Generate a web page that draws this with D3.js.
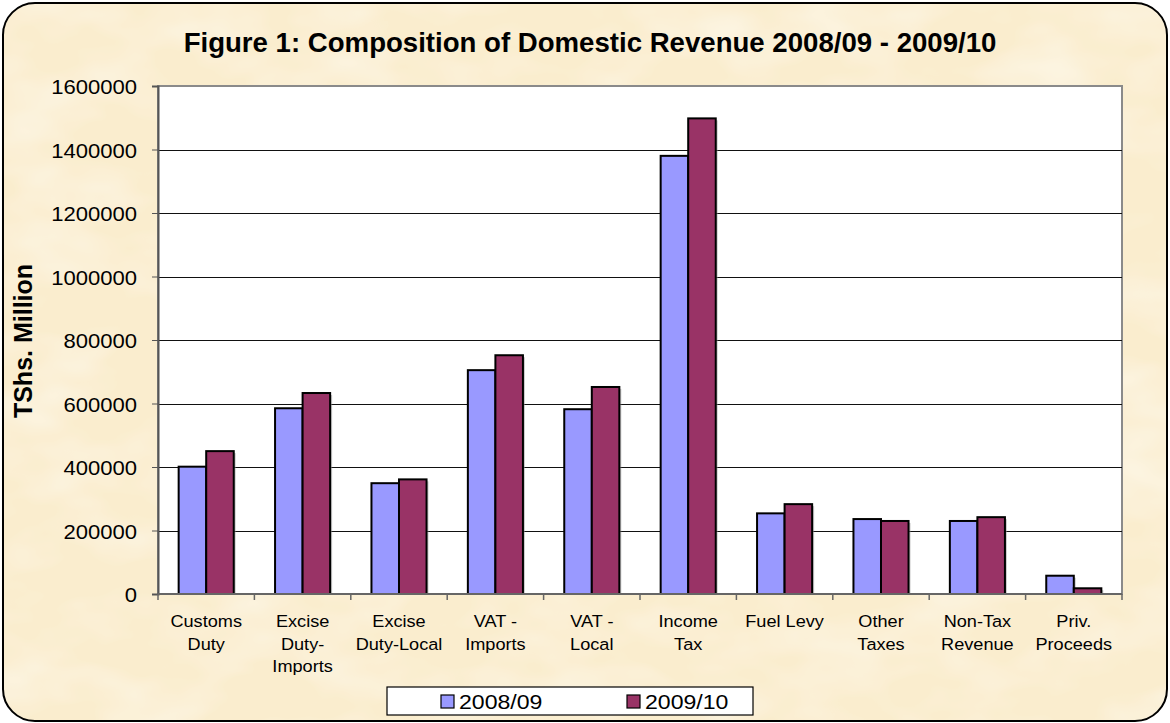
<!DOCTYPE html>
<html>
<head>
<meta charset="utf-8">
<script src="https://cdn.jsdelivr.net/npm/d3@7"></script>
<style>
  html, body { margin: 0; padding: 0; background: #fff; }
  svg { display: block; font-family: "Liberation Sans", Arial, sans-serif; }
</style>
</head>
<body>
<svg width="1170" height="723"></svg>
<script>
// categories, split where the original wraps
const categories = [
  ["Customs", "Duty"], ["Excise", "Duty-", "Imports"], ["Excise", "Duty-Local"],
  ["VAT -", "Imports"], ["VAT -", "Local"], ["Income", "Tax"], ["Fuel Levy"],
  ["Other", "Taxes"], ["Non-Tax", "Revenue"], ["Priv.", "Proceeds"]
];
const seriesNames = ["2008/09", "2009/10"];
const values0809 = [401000, 585000, 349000, 705000, 582000, 1380000, 254000, 236000, 230000, 57600];
const values0910 = [450000, 633000, 361000, 752000, 652000, 1498000, 283000, 230000, 242000, 18000];
const yTicks = [0, 200000, 400000, 600000, 800000, 1000000, 1200000, 1400000, 1600000];
const colors = ["#9999FF", "#993366"];

const svg = d3.select("svg");
const W = 1170, H = 723;
const plot = { left: 158, right: 1122, top: 86, bottom: 594 };

// textured cream background
const defs = svg.append("defs");
const filt = defs.append("filter").attr("id", "paper").attr("x", 0).attr("y", 0).attr("width", 1).attr("height", 1);
filt.append("feTurbulence").attr("type", "fractalNoise").attr("baseFrequency", "0.01 0.018").attr("numOctaves", 3).attr("seed", 7).attr("result", "noise");
filt.append("feColorMatrix").attr("in", "noise").attr("type", "matrix")
  .attr("values", "0 0 0 0 1  0 0 0 0 0.98  0 0 0 0 0.92  1.0 0 0 0 -0.42").attr("result", "tint");
filt.append("feComposite").attr("in", "tint").attr("in2", "SourceGraphic").attr("operator", "atop");

defs.append("clipPath").attr("id", "frameClip")
  .append("rect").attr("x", 3).attr("y", 3).attr("width", W - 6).attr("height", H - 5).attr("rx", 32);

const frame = () => svg.append("rect").attr("x", 3).attr("y", 3).attr("width", W - 6).attr("height", H - 5).attr("rx", 32);
frame().attr("fill", "#FAEDCE");
frame().attr("fill", "#FAEDCE").attr("filter", "url(#paper)").attr("clip-path", "url(#frameClip)");
frame().attr("fill", "none").attr("stroke", "#000").attr("stroke-width", 2);

// text helper, slightly widened like the original
function stext(g, x, y, str, sx = 1.1) {
  return g.append("text").attr("transform", `translate(${x},${y}) scale(${sx},1)`).text(str);
}

// title
svg.append("text").attr("x", 590).attr("y", 52)
  .attr("text-anchor", "middle").attr("font-weight", "bold").attr("font-size", 27.6).attr("fill", "#000")
  .text("Figure 1: Composition of Domestic Revenue 2008/09 - 2009/10");

// scales
const x0 = d3.scaleBand().domain(d3.range(categories.length)).range([plot.left, plot.right]);
const x1 = d3.scaleBand().domain([0, 1]).range([0, x0.bandwidth()]).paddingOuter(0.75);
const y = d3.scaleLinear().domain([0, 1600000]).range([plot.bottom, plot.top]);

// plot area
svg.append("rect").attr("x", plot.left).attr("y", plot.top)
  .attr("width", plot.right - plot.left).attr("height", plot.bottom - plot.top)
  .attr("fill", "#fff").attr("stroke", "#8a8a8a").attr("stroke-width", 2);

// gridlines
svg.append("g").selectAll("line").data(yTicks.filter(d => d > 0 && d < 1600000)).enter().append("line")
  .attr("x1", plot.left).attr("x2", plot.right)
  .attr("y1", d => Math.round(y(d)) + 0.5).attr("y2", d => Math.round(y(d)) + 0.5)
  .attr("stroke", "#111").attr("stroke-width", 1);

// bars
const rows = categories.map((c, i) => [values0809[i], values0910[i]]);
const groups = svg.append("g").selectAll("g").data(rows).enter().append("g")
  .attr("transform", (d, i) => `translate(${x0(i)},0)`);
groups.selectAll("rect.shadow").data(d => d).enter().append("rect")
  .attr("x", (d, j) => x1(j) + 2).attr("y", d => y(d) + 2)
  .attr("width", x1.bandwidth()).attr("height", d => y(0) - y(d) - 2)
  .attr("fill", "#999").attr("opacity", 0.5);
groups.selectAll("rect.bar").data(d => d).enter().append("rect")
  .attr("x", (d, j) => x1(j)).attr("y", d => y(d))
  .attr("width", x1.bandwidth()).attr("height", d => y(0) - y(d))
  .attr("fill", (d, j) => colors[j]).attr("stroke", "#000").attr("stroke-width", 2);

// y axis
const yAxis = svg.append("g").attr("transform", `translate(${plot.left},0)`)
  .call(d3.axisLeft(y).tickValues(yTicks).tickFormat(d3.format("d")).tickSize(6).tickPadding(0));
yAxis.select(".domain").attr("stroke", "#555").attr("stroke-width", 2);
yAxis.selectAll(".tick line").attr("stroke", "#555");
yAxis.selectAll(".tick text").remove();
yAxis.selectAll(".tick").each(function (d) {
  stext(d3.select(this), -21, 7.5, d3.format("d")(d), 1.05)
    .attr("text-anchor", "end").attr("font-size", 21).attr("fill", "#000");
});

// x axis, ticks on category boundaries
const xAxis = svg.append("g").attr("transform", `translate(0,${plot.bottom})`);
xAxis.append("line").attr("x1", plot.left).attr("x2", plot.right).attr("stroke", "#666").attr("stroke-width", 2);
xAxis.selectAll("line.tk").data(d3.range(categories.length + 1)).enter().append("line")
  .attr("x1", i => plot.left + i * x0.step()).attr("x2", i => plot.left + i * x0.step())
  .attr("y1", 0).attr("y2", 6).attr("stroke", "#666").attr("stroke-width", 1.5);

const labels = svg.append("g");
categories.forEach((lines, i) => {
  const cx = x0(i) + x0.bandwidth() / 2;
  lines.forEach((ln, k) => {
    stext(labels, cx, 627 + k * 22.5, ln).attr("text-anchor", "middle").attr("font-size", 16.5).attr("fill", "#000");
  });
});

// axis title
svg.append("text").attr("transform", "translate(32,341) rotate(-90)")
  .attr("text-anchor", "middle").attr("font-weight", "bold").attr("font-size", 25).text("TShs. Million");

// legend
const leg = svg.append("g");
leg.append("rect").attr("x", 387).attr("y", 687).attr("width", 366).attr("height", 28)
  .attr("fill", "#fff").attr("stroke", "#000").attr("stroke-width", 1.2);
const legX = [441, 627];
seriesNames.forEach((s, j) => {
  leg.append("rect").attr("x", legX[j]).attr("y", 695).attr("width", 13).attr("height", 13)
    .attr("fill", colors[j]).attr("stroke", "#000").attr("stroke-width", 1.2);
  stext(leg, legX[j] + 18, 709, s).attr("font-size", 21).attr("fill", "#000");
});
</script>
</body>
</html>
